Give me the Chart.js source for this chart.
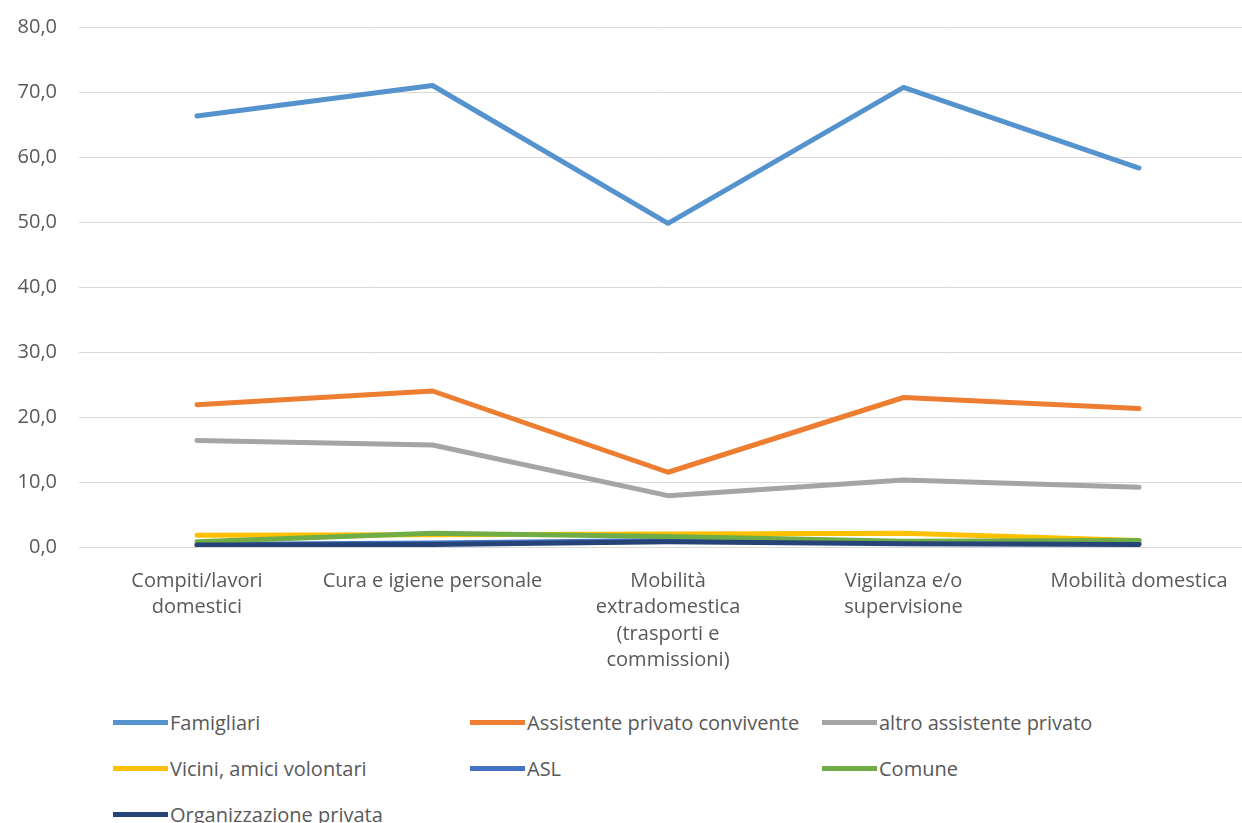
<!DOCTYPE html>
<html>
<head>
<meta charset="utf-8">
<script src="https://cdn.jsdelivr.net/npm/chart.js@4"></script>
<style>
  html, body { margin: 0; padding: 0; background: #fff; overflow: hidden; }
  #wrap { position: relative; width: 1242px; height: 823px; }
  #chart { position: absolute; left: 0; top: 0; }
  #legend {
    position: absolute; left: 113px; top: 699px;
    display: grid; grid-template-columns: 357px 352px 360px; grid-auto-rows: 46px;
    font-family: "Open Sans", sans-serif; font-size: 20px; color: #595959;
  }
  .item { display: flex; align-items: center; white-space: nowrap; }
  .swatch { width: 55px; height: 5px; margin-right: 2px; flex: none; }
</style>
</head>
<body>
<div id="wrap">
  <canvas id="chart" width="1242" height="690"></canvas>
  <div id="legend"></div>
</div>
<script>
var categories = [
  ["Compiti/lavori", "domestici"],
  ["Cura e igiene personale"],
  ["Mobilità", "extradomestica", "(trasporti e", "commissioni)"],
  ["Vigilanza e/o", "supervisione"],
  ["Mobilità domestica"]
];
var seriesNames = ["Famigliari", "Assistente privato convivente", "altro assistente privato",
  "Vicini, amici volontari", "ASL", "Comune", "Organizzazione privata"];

var famigliari = [66.3, 71.0, 49.8, 70.7, 58.3];
var assistenteConvivente = [21.9, 24.0, 11.5, 23.0, 21.3];
var altroAssistente = [16.4, 15.7, 7.9, 10.3, 9.2];
var viciniAmici = [1.8, 1.9, 2.0, 2.1, 1.0];
var asl = [0.4, 0.6, 1.0, 0.7, 0.5];
var comune = [0.8, 2.1, 1.6, 0.9, 1.0];
var organizzazione = [0.3, 0.4, 0.8, 0.5, 0.4];

var yTicks = [0, 10, 20, 30, 40, 50, 60, 70, 80];

var colors = ["#5593CF", "#ED7D31", "#A5A5A5", "#FFC000", "#4472C4", "#70AD47", "#264478"];
var allSeries = [famigliari, assistenteConvivente, altroAssistente, viciniAmici, asl, comune, organizzazione];

var datasets = allSeries.map(function(values, i) {
  return {
    label: seriesNames[i],
    data: values,
    borderColor: colors[i],
    backgroundColor: colors[i],
    borderWidth: 5,
    pointRadius: 0,
    tension: 0,
    borderCapStyle: 'round',
    borderJoinStyle: 'round',
    order: -i // excel draws the last series on top
  };
});

var textColor = "#595959";

new Chart(document.getElementById('chart').getContext('2d'), {
  type: 'line',
  data: {
    labels: categories.map(function(_, i) { return i; }),
    datasets: datasets
  },
  options: {
    responsive: false,
    animation: false,
    layout: { padding: { top: 27, right: 0, left: 0, bottom: 0 } },
    plugins: {
      legend: { display: false },
      tooltip: { enabled: false }
    },
    scales: {
      x: {
        type: 'linear',
        min: -0.501,
        max: 4.437,
        // invisible tick marks push the labels down without adding side padding
        grid: { drawOnChartArea: false, drawTicks: true, tickLength: 19, tickColor: 'rgba(0,0,0,0)', color: 'rgba(0,0,0,0)' },
        border: { display: false },
        afterBuildTicks: function(scale) {
          scale.ticks = categories.map(function(_, i) { return { value: i }; });
        },
        afterFit: function(scale) { scale.height = 143; },
        ticks: {
          autoSkip: false,
          maxRotation: 0,
          padding: 2,
          color: textColor,
          font: { family: "Open Sans", size: 20, lineHeight: 1.32 },
          callback: function(value) { return categories[value]; }
        }
      },
      y: {
        min: 0,
        max: 80,
        afterBuildTicks: function(scale) {
          scale.ticks = yTicks.map(function(v) { return { value: v }; });
        },
        afterFit: function(scale) { scale.width = 79; },
        grid: { color: "#D9D9D9", lineWidth: 1, drawTicks: true, tickLength: 20, tickColor: 'rgba(0,0,0,0)' },
        border: { display: false },
        ticks: {
          padding: 2,
          color: textColor,
          font: { family: "Open Sans", size: 20 },
          callback: function(value) { return value.toFixed(1).replace('.', ','); }
        }
      }
    }
  }
});

// legend in three columns like the excel one
var legend = document.getElementById('legend');
seriesNames.forEach(function(name, i) {
  var item = document.createElement('div');
  item.className = 'item';
  var sw = document.createElement('span');
  sw.className = 'swatch';
  sw.style.background = colors[i];
  var txt = document.createElement('span');
  txt.textContent = name;
  item.appendChild(sw);
  item.appendChild(txt);
  legend.appendChild(item);
});
</script>
</body>
</html>
